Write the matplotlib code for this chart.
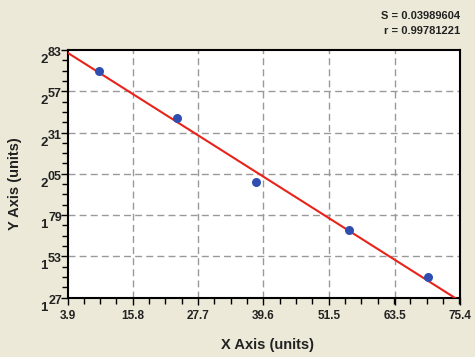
import numpy as np
import matplotlib
matplotlib.use("Agg")
import matplotlib.pyplot as plt
from matplotlib.ticker import FixedLocator, AutoMinorLocator

plt.rcParams['font.family'] = ['Liberation Sans', 'DejaVu Sans']

# Data
x_vals = [9.7, 23.8, 38.2, 55.2, 69.5]
y_vals = [2.70, 2.40, 2.00, 1.695, 1.397]
x_ticks = [3.9, 15.8, 27.7, 39.6, 51.5, 63.5, 75.4]
x_tick_labels = ["3.9", "15.8", "27.7", "39.6", "51.5", "63.5", "75.4"]
y_ticks = [1.27, 1.53, 1.79, 2.05, 2.31, 2.57, 2.83]
y_tick_base = ["1", "1", "1", "2", "2", "2", "2"]
y_tick_sup = ["27", "53", "79", "05", "31", "57", "83"]
stat_lines = ["S = 0.03989604", "r = 0.99781221"]
x_label = "X Axis (units)"
y_label = "Y Axis (units)"

W, H = 475, 357
fig = plt.figure(figsize=(W / 100, H / 100), dpi=100, facecolor='#ECE9D8')
L, R, T, B = 67.5, 460, 50, 297.5
ax = fig.add_axes([L / W, 1 - B / H, (R - L) / W, (B - T) / H])
ax.set_facecolor('white')

# regression line across full x-range
coef = np.polyfit(x_vals, y_vals, 1)
xl = np.array([x_ticks[0], x_ticks[-1]])
ax.plot(xl, np.polyval(coef, xl), color='#E8231A', lw=1.5, zorder=3)
ax.plot(x_vals, y_vals, 'o', color='#2E4FB0', markersize=6.5, markeredgewidth=0, zorder=4)

ax.set_xlim(x_ticks[0], x_ticks[-1])
ax.set_ylim(y_ticks[0], y_ticks[-1])
ax.xaxis.set_major_locator(FixedLocator(x_ticks))
ax.yaxis.set_major_locator(FixedLocator(y_ticks))
ax.xaxis.set_minor_locator(AutoMinorLocator(4))
ax.yaxis.set_minor_locator(AutoMinorLocator(4))
ax.set_xticklabels(x_tick_labels, fontsize=8.5, fontweight='bold', color='#222222')
ax.set_yticklabels([])
ax.tick_params(which='major', direction='out', length=5, width=1, color='black')
ax.tick_params(which='minor', direction='out', length=4, width=1, color='black')
ax.tick_params(axis='x', pad=4)

# y tick labels: base digit + raised decimals (as in reference)
ytrans = ax.get_yaxis_transform()
for yv, b, s in zip(y_ticks, y_tick_base, y_tick_sup):
    ax.annotate(s, xy=(0, yv), xycoords=ytrans, xytext=(-5.5, -3),
                textcoords='offset pixels', ha='right', va='center',
                fontsize=9, fontweight='bold', color='#222222', annotation_clip=False)
    ax.annotate(b, xy=(0, yv), xycoords=ytrans, xytext=(-20, -10),
                textcoords='offset pixels', ha='right', va='center',
                fontsize=9.5, fontweight='bold', color='#222222', annotation_clip=False)

for xv in x_ticks[1:-1]:
    ax.axvline(xv, color='#999999', lw=1, ls=(0, (5, 3)), zorder=1)
for yv in y_ticks[1:-1]:
    ax.axhline(yv, color='#999999', lw=1, ls=(0, (5, 3)), zorder=1)

for s in ax.spines.values():
    s.set_linewidth(1.5)
    s.set_color('black')

fig.text(314 / W, 1 - 345 / H, x_label, ha='right', va='center', fontsize=10.5,
         fontweight='bold', color='#222222')
fig.text(15 / W, 1 - 184 / H, y_label, ha='center', va='center', rotation=90,
         fontsize=10.5, fontweight='bold', color='#222222')
fig.text(460 / W, 1 - 16 / H, stat_lines[0], ha='right', va='center', fontsize=8,
         fontweight='bold', color='#222222')
fig.text(460 / W, 1 - 31 / H, stat_lines[1], ha='right', va='center', fontsize=8,
         fontweight='bold', color='#222222')

fig.savefig('out.png', dpi=100, facecolor=fig.get_facecolor())
